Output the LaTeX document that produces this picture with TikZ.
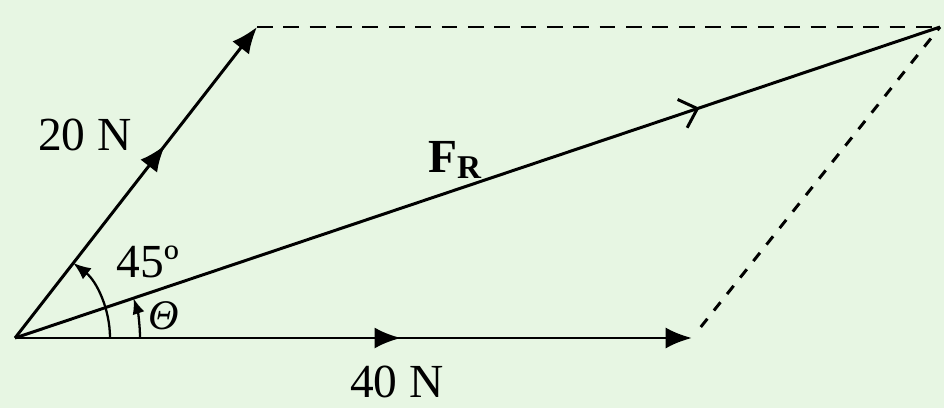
\documentclass[tikz,border=0pt]{standalone}
\usepackage{fontspec}
\setmainfont{Liberation Serif}
\usetikzlibrary{arrows.meta, calc, decorations.markings}
\definecolor{bggreen}{RGB}{231,246,227}

\tikzset{
    force/.style={line width=1.7pt, -{Latex[length=15pt, width=12pt]}},
    midtip/.style={postaction={decorate}, decoration={markings,
        mark=at position #1 with {\arrow{Latex[length=15pt, width=12pt]}}}},
    openmid/.style={postaction={decorate}, decoration={markings,
        mark=at position #1 with {\arrow{Straight Barb[length=9pt, width=17pt, line width=1.7pt]}}}},
    guide/.style={line width=1.7pt, dash pattern=on 9pt off 6pt},
    lbl/.style={font=\fontsize{27}{30}\selectfont}
}

\begin{document}
\begin{tikzpicture}
            \fill[bggreen] (0, 0) rectangle (18.88, 8.16);
            \useasboundingbox (0, 0) rectangle (18.88, 8.16);

            \coordinate (O) at (0.30, 1.40);
            \coordinate (P20) at (5.14, 7.62);
            \coordinate (P40) at (13.84, 1.40);
            \coordinate (R) at (18.80, 7.62);

            \draw[guide] (P20) -- (R);
            \draw[guide, dash pattern=on 6pt off 6pt, shorten <=8pt] (P40) -- (R);

            \draw[force, midtip=0.62] (O) -- (P20);
            \draw[force, midtip=0.57] (O) -- (P40);
            \draw[line width=1.7pt, openmid=0.74] (O) -- (R);

            \draw[line width=1.3pt, -{Latex[length=10pt, width=8pt]}] (O) ++(0:1.9) arc (0:52.2:1.9);
            \draw[line width=1.3pt, -{Latex[length=9pt, width=7pt]}] (O) ++(0:2.5) arc (0:18.6:2.5);

            \node[lbl] (l20) at (1.70, 5.46) {20 N};
            \node[lbl] (l40) at (7.94, 0.52) {40 N};
            \node[lbl] (lr) at (9.10, 4.96) {$\mathbf{F}_{\mathbf{R}}$};
            \node[lbl] (l45) at (2.96, 2.92) {45º};
            \node[font=\fontsize{24}{28}\selectfont\itshape] (lt) at (3.28, 1.84) {Θ};
        \end{tikzpicture}
\end{document}
